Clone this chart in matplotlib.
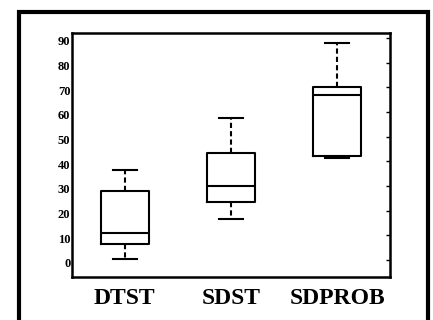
import matplotlib
matplotlib.use("Agg")
import matplotlib.pyplot as plt
import matplotlib.transforms as mtransforms
from matplotlib.patches import Rectangle

# box statistics
labels = ["DTST", "SDST", "SDPROB"]
whislo = [0.5, 16.5, 41.5]
q1 = [6.5, 23.5, 42.0]
med = [11.0, 30.0, 67.0]
q3 = [28.0, 43.5, 70.0]
whishi = [36.5, 57.5, 88.0]
yticks = [0, 10, 20, 30, 40, 50, 60, 70, 80, 90]

stats = []
for i in range(len(labels)):
	stats.append({"label": labels[i], "whislo": whislo[i], "q1": q1[i],
		"med": med[i], "q3": q3[i], "whishi": whishi[i], "fliers": []})

plt.rcParams["font.family"] = "Liberation Serif"
fig = plt.figure(figsize=(4.33, 3.2), dpi=100)
ax = fig.add_axes([0.166, 0.134, 0.735, 0.763])

line = dict(color="black", linewidth=1.5)
ax.bxp(stats, positions=[1, 2, 3], widths=0.45, showfliers=False,
	boxprops=line, medianprops=line, capprops=line,
	whiskerprops=dict(color="black", linewidth=1.5, linestyle=(0, (2.5, 1.5))))

ax.set_xlim(0.5, 3.5)
ax.set_ylim(-7, 92)
ax.set_yticks(yticks)
ax.set_yticklabels([str(t) for t in yticks], fontsize=9, fontweight="bold")
ax.set_xticklabels(labels, fontsize=17, fontweight="bold")
ax.tick_params(axis="y", left=False, right=True, labelleft=True,
	direction="in", length=3, width=1, pad=1)
ax.tick_params(axis="x", bottom=False, pad=4)
for s in ax.spines.values():
	s.set_linewidth(1.8)

# the y labels sit a little below their ticks in the reference
shift = mtransforms.ScaledTranslation(0, -3 / 100, fig.dpi_scale_trans)
for lab in ax.get_yticklabels():
	lab.set_transform(lab.get_transform() + shift)

# heavy outer frame round the whole chart, running off the bottom
fig.patches.append(Rectangle((0.045, -0.1), 0.943, 1.062, transform=fig.transFigure,
	fill=False, edgecolor="black", linewidth=3, clip_on=False))

fig.savefig("out.png", dpi=100)
